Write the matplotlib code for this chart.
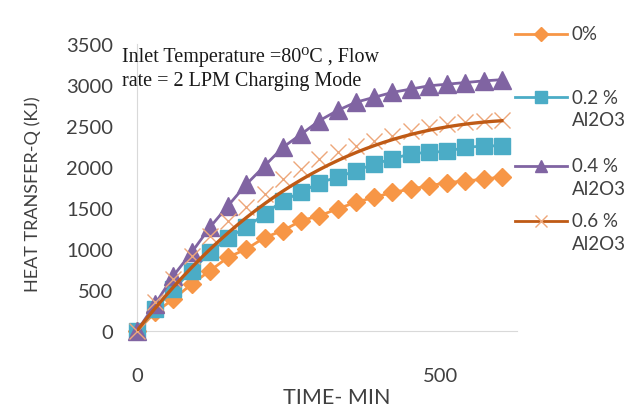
import matplotlib
matplotlib.use("Agg")
import matplotlib.pyplot as plt
from matplotlib.lines import Line2D
import numpy as np

time_min = [0, 30, 60, 90, 120, 150, 180, 210, 240, 270, 300, 330, 360, 390, 420, 450, 480, 510, 540, 570, 600]
q_0 = [0, 228, 390, 573, 735, 900, 1000, 1140, 1225, 1345, 1405, 1490, 1570, 1630, 1690, 1730, 1770, 1810, 1830, 1850, 1880]
q_02 = [0, 268, 512, 735, 960, 1140, 1265, 1427, 1590, 1690, 1810, 1875, 1955, 2035, 2100, 2160, 2180, 2190, 2240, 2255, 2260]
q_04 = [0, 330, 675, 960, 1265, 1530, 1790, 2015, 2240, 2400, 2565, 2690, 2790, 2850, 2910, 2950, 2990, 3010, 3030, 3050, 3065]
q_06 = [0, 350, 634, 918, 1163, 1345, 1508, 1670, 1854, 1976, 2098, 2179, 2260, 2321, 2382, 2443, 2484, 2524, 2545, 2565, 2570]
# smooth line drawn for the 0.6 % series
line_t = [0, 120, 240, 360, 480, 600]
line_06 = [0, 1000, 1711, 2158, 2463, 2560]

labels = ["0%", "0.2 %\nAl2O3", "0.4 %\nAl2O3", "0.6 %\nAl2O3"]

c0 = "#F79646"
c2 = "#4BACC6"
c4 = "#8064A2"
c6l = "#BF5A15"
c6m = "#EDA77A"
tc = "#404040"

W, H = 629, 410
fig = plt.figure(figsize=(W / 100, H / 100), dpi=100)
ax = fig.add_axes([137 / W, 1 - 332 / H, (517 - 137) / W, (332 - 45) / H])

ax.plot(time_min, q_0, color=c0, marker="D", markersize=9, lw=2, clip_on=False, zorder=3)
ax.plot(time_min, q_02, color=c2, marker="s", markersize=11.5, lw=2, clip_on=False, zorder=3)
ax.plot(time_min, q_04, color=c4, marker="^", markersize=12.5, lw=2, clip_on=False, zorder=3)
ax.plot(time_min, q_06, ls="none", marker="x", markersize=11, mew=1.0, color=c6m, clip_on=False, zorder=3)
xs = np.linspace(0, 600, 200)
coef = np.polyfit(line_t, line_06, 3)
ax.plot(xs, np.polyval(coef, xs), color=c6l, lw=2.4, zorder=4)

ax.set_xlim(0, 625)
ax.set_ylim(0, 3500)
ax.set_xticks([0, 500])
ax.set_yticks(range(0, 3501, 500))
for s in ["top", "right"]:
    ax.spines[s].set_visible(False)
for s in ["left", "bottom"]:
    ax.spines[s].set_color("#D9D9D9")
ax.tick_params(length=0, labelsize=14.5, labelcolor=tc)
ax.tick_params(axis="y", pad=17)
ax.tick_params(axis="x", pad=26)
for t in ax.get_xticklabels() + ax.get_yticklabels():
    t.set_fontfamily("Lato")

ax.set_xlabel("TIME- MIN", fontsize=15.5, color=tc, family="Lato")
ax.xaxis.set_label_coords((337 - 137) / (517 - 137), -(398 - 332) / (332 - 45), transform=ax.transAxes)
ax.xaxis.label.set_va("center")
ax.set_ylabel("HEAT TRANSFER-Q (KJ)", fontsize=13, color=tc, family="Lato")
ax.yaxis.set_label_coords(-(137 - 33) / (517 - 137), (332 - 194) / (332 - 45))
ax.yaxis.label.set_va("center")

fig.text(122 / W, 1 - 57 / H, "Inlet Temperature =80\u2070C , Flow",
         fontsize=14.5, family=["Liberation Serif", "DejaVu Serif"], color="#1A1A1A", va="center", ha="left")
fig.text(122 / W, 1 - 82 / H, "rate = 2 LPM Charging Mode",
         fontsize=14.5, family=["Liberation Serif", "DejaVu Serif"], color="#1A1A1A", va="center", ha="left")

# legend (keys drawn in figure coordinates)
keys = [
    dict(color=c0, marker="D", markersize=7),
    dict(color=c2, marker="s", markersize=9),
    dict(color=c4, marker="^", markersize=9),
    dict(color=c6l, marker="x", markersize=9, mew=1.0, markeredgecolor=c6m),
]
key_y = [35, 98, 167, 222]
for k, yk, lab in zip(keys, key_y, labels):
    fy = 1 - yk / H
    ln = Line2D([515 / W, 541 / W, 567 / W], [fy, fy, fy], transform=fig.transFigure,
                lw=2, markevery=[1], **k)
    fig.add_artist(ln)
    parts = lab.split("\n")
    for j, p in enumerate(parts):
        fig.text(572 / W, 1 - (yk + 22.5 * j) / H, p, fontsize=13.5, family="Lato",
                 color=tc, va="center", ha="left")

fig.savefig("out.png", dpi=100)
